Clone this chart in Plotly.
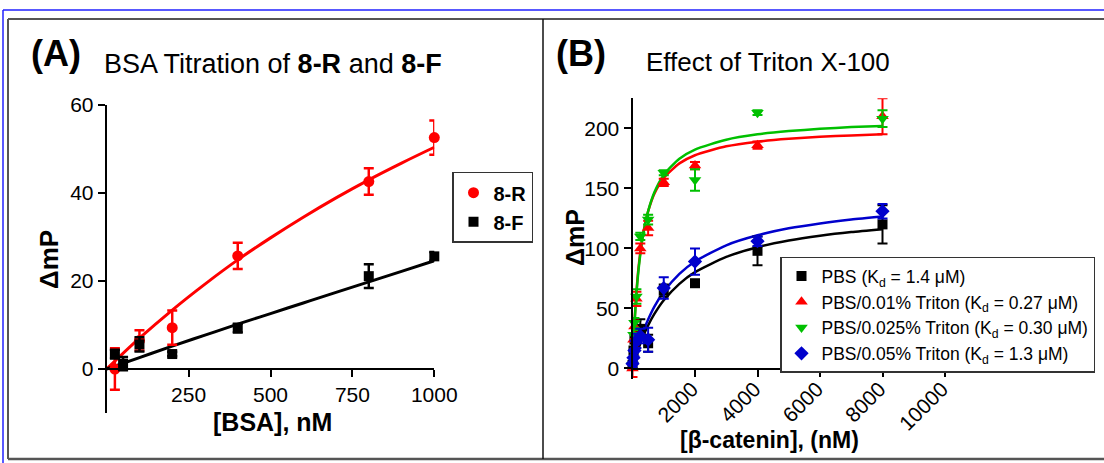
import plotly.graph_objects as go

FONT = "Liberation Sans, Arial, sans-serif"
W, H = 1104, 463

# ---------------- Panel A data ----------------
a_r_x = [25, 100, 200, 400, 800, 1000]
a_r_y = [0.0, 6.5, 9.4, 25.7, 42.6, 52.6]
a_r_e = [4.7, 2.3, 3.9, 3.0, 3.0, 3.9]
a_f_x = [25, 50, 100, 200, 400, 800, 1000]
a_f_y = [3.4, 1.2, 5.6, 3.4, 9.3, 21.1, 25.6]
a_f_e = [1.0, 1.5, 1.6, 0.5, 1.0, 2.7, 1.0]
a_fit_x = [0, 100, 200, 300, 400, 500, 600, 700, 800, 900, 1000]
a_fit_r = [0, 7.0, 13.4, 19.3, 24.8, 29.8, 34.5, 38.9, 43.0, 46.8, 50.4]
a_fit_f = [0, 2.6, 5.2, 7.7, 10.2, 12.6, 15.0, 17.4, 19.8, 22.2, 24.6]
a_xticks = [250, 500, 750, 1000]
a_yticks = [0, 20, 40, 60]

# ---------------- Panel B data ----------------
b_x = [0, 31.25, 62.5, 125, 250, 500, 1000, 2000, 4000, 8000]
b_pbs = [3, 15, 24, 32, 33, 21, 65, 71, 98, 120]
b_pbs_e = [3, 4, 5, 8, 8, 7, 5, 2, 12, 16]
b_t01 = [0, 24, 35, 58, 100, 117, 155, 169, 186, 210]
b_t01_e = [7, 5, 5, 6, 4, 6, 3, 3, 3, 15]
b_t025 = [3, 28, 38, 60, 110, 124, 163, 157, 213, 208]
b_t025_e = [3, 4, 4, 6, 3, 4, 2, 9, 2, 7]
b_t05 = [4, 9, 15, 23, 27, 24, 67, 89, 106, 131]
b_t05_e = [3, 4, 5, 6, 6, 10, 9, 11, 4, 6]
b_fit_x = [0, 50, 100, 150, 200, 300, 400, 500, 700, 1000, 1500, 2000, 3000, 4000, 5000, 6000, 7000, 8000]
b_fit_pbs = [0, 4.7, 9.1, 13.2, 17.0, 24.1, 30.3, 35.9, 45.4, 56.8, 70.5, 80.2, 92.9, 101.0, 106.5, 110.5, 113.6, 116.0]
b_fit_t01 = [0, 31.5, 54.5, 72.0, 85.8, 106.1, 120.4, 130.9, 145.5, 158.7, 170.8, 177.6, 185.0, 188.9, 191.3, 192.9, 194.1, 195.0]
b_fit_t025 = [0, 29.9, 52.4, 69.9, 83.8, 104.8, 119.8, 131.0, 146.7, 161.2, 174.7, 182.3, 190.5, 195.0, 197.7, 199.6, 201.0, 202.0]
b_fit_t05 = [0, 5.4, 10.5, 15.2, 19.6, 27.6, 34.6, 40.8, 51.5, 63.9, 78.8, 89.1, 102.6, 110.9, 116.7, 120.8, 124.0, 126.5]
b_xticks = [2000, 4000, 6000, 8000, 10000]
b_xticklabels = ["2000", "4000", "6000", "8000", "10000"]
b_yticks = [0, 50, 100, 150, 200]

RED, BLACK, GREEN, BLUE = "#ff0000", "#000000", "#00c000", "#0000cc"

fig = go.Figure()

# Panel A
fig.add_trace(go.Scatter(x=a_fit_x, y=a_fit_r, mode="lines", line=dict(color=RED, width=3, shape="spline"),
                         showlegend=False, xaxis="x", yaxis="y"))
fig.add_trace(go.Scatter(x=a_fit_x, y=a_fit_f, mode="lines", line=dict(color=BLACK, width=3, shape="spline"),
                         showlegend=False, xaxis="x", yaxis="y"))
fig.add_trace(go.Scatter(x=a_r_x, y=a_r_y, mode="markers", name="<b>8-R</b>",
                         marker=dict(color=RED, size=11, symbol="circle"),
                         error_y=dict(type="data", array=a_r_e, color=RED, thickness=2.5, width=5),
                         cliponaxis=False, xaxis="x", yaxis="y", legend="legend"))
fig.add_trace(go.Scatter(x=a_f_x, y=a_f_y, mode="markers", name="<b>8-F</b>",
                         marker=dict(color=BLACK, size=10, symbol="square"),
                         error_y=dict(type="data", array=a_f_e, color=BLACK, thickness=2.5, width=5),
                         cliponaxis=False, xaxis="x", yaxis="y", legend="legend"))

# Panel B curves
for yy, c in [(b_fit_pbs, BLACK), (b_fit_t05, BLUE), (b_fit_t01, RED), (b_fit_t025, GREEN)]:
    fig.add_trace(go.Scatter(x=b_fit_x, y=yy, mode="lines", line=dict(color=c, width=2.5, shape="spline", smoothing=0.6),
                             showlegend=False, xaxis="x2", yaxis="y2"))

b_series = [
    (b_pbs, b_pbs_e, BLACK, "square", 10, "PBS (K<sub>d</sub> = 1.4 μM)"),
    (b_t01, b_t01_e, RED, "triangle-up", 11, "PBS/0.01% Triton (K<sub>d</sub> = 0.27 μM)"),
    (b_t025, b_t025_e, GREEN, "triangle-down", 11, "PBS/0.025% Triton (K<sub>d</sub> = 0.30 μM)"),
    (b_t05, b_t05_e, BLUE, "diamond", 11, "PBS/0.05% Triton (K<sub>d</sub> = 1.3 μM)"),
]
for yy, ee, c, sym, sz, nm in b_series:
    fig.add_trace(go.Scatter(x=b_x, y=yy, mode="markers", name=nm,
                             marker=dict(color=c, size=sz, symbol=sym),
                             error_y=dict(type="data", array=ee, color=c, thickness=2, width=5),
                             cliponaxis=False, xaxis="x2", yaxis="y2", legend="legend2"))

def px_x(p):
    return p / W

def px_y(p):
    return 1 - p / H

axis_common = dict(showline=True, linecolor="black", linewidth=2, ticks="outside", ticklen=7,
                   tickwidth=2, tickcolor="black", showgrid=False, zeroline=False, automargin=False,
                   tickfont=dict(family=FONT, size=21, color="black"))

fig.update_layout(
    template="none",
    width=W, height=H, margin=dict(l=0, r=0, t=0, b=0, pad=0), autosize=False,
    paper_bgcolor="white", plot_bgcolor="rgba(0,0,0,0)",
    xaxis=dict(domain=[px_x(106.7), px_x(434.3)], range=[0, 1000], tickvals=a_xticks,
               anchor="free", position=px_y(369), **axis_common),
    yaxis=dict(domain=[px_y(413), px_y(105)], range=[-10, 60], tickvals=a_yticks,
               anchor="x", **axis_common),
    xaxis2=dict(domain=[px_x(632.5), px_x(945)], range=[0, 10000], tickvals=b_xticks,
                ticktext=b_xticklabels, tickangle=-45, ticklabelstandoff=-8, ticklabelshift=-3,
                anchor="free", position=px_y(368.5), **axis_common),
    yaxis2=dict(domain=[px_y(379.3), px_y(98.3)], range=[-9, 225], tickvals=b_yticks,
                anchor="x2", **axis_common),
    legend=dict(x=px_x(452), y=px_y(171.7), xanchor="left", yanchor="top",
                bordercolor="#333", borderwidth=1.5, bgcolor="white",
                font=dict(family=FONT, size=20, color="black")),
    legend2=dict(x=px_x(780), y=px_y(256.7), xanchor="left", yanchor="top",
                 bordercolor="#333", borderwidth=1.5, bgcolor="white",
                 font=dict(family=FONT, size=17.5, color="black")),
)

ann = [
    dict(text="<b>(A)</b>", x=px_x(55.5), y=px_y(53), font=dict(size=36)),
    dict(text="BSA Titration of <b>8-R</b> and <b>8-F</b>", x=px_x(102), y=px_y(64), xanchor="left",
         font=dict(size=27)),
    dict(text="<b>ΔmP</b>", x=px_x(49), y=px_y(260), textangle=-90, font=dict(size=26)),
    dict(text="<b>[BSA], nM</b>", x=px_x(272), y=px_y(421.7), font=dict(size=25)),
    dict(text="<b>(B)</b>", x=px_x(581), y=px_y(53), font=dict(size=36)),
    dict(text="Effect of Triton X-100", x=px_x(643.6), y=px_y(62), xanchor="left", font=dict(size=26)),
    dict(text="<b>ΔmP</b>", x=px_x(575), y=px_y(238), textangle=-90, font=dict(size=25)),
    dict(text="<b>[β-catenin], (nM)</b>", x=px_x(769), y=px_y(440), font=dict(size=23)),
]
for a in ann:
    a.setdefault("xanchor", "center")
    a["yanchor"] = "middle"
    a["xref"] = "paper"
    a["yref"] = "paper"
    a["showarrow"] = False
    a["font"] = dict(family=FONT, color="black", **a["font"])
    fig.add_annotation(**a)

shapes = [
    dict(x0=px_x(3), x1=1, y0=px_y(10), y1=px_y(10), line=dict(color="#2020ff", width=1.5)),
    dict(x0=px_x(3), x1=px_x(3), y0=0, y1=px_y(10), line=dict(color="#2020ff", width=1.5)),
    dict(x0=px_x(8), x1=1, y0=px_y(19), y1=px_y(19), line=dict(color="#555555", width=2)),
    dict(x0=px_x(8), x1=px_x(8), y0=px_y(459), y1=px_y(19), line=dict(color="#555555", width=2)),
    dict(x0=px_x(8), x1=1, y0=px_y(459), y1=px_y(459), line=dict(color="#555555", width=2.5)),
    dict(x0=px_x(543), x1=px_x(543), y0=px_y(459), y1=px_y(19), line=dict(color="#111111", width=1.5)),
]
for s in shapes:
    fig.add_shape(type="line", xref="paper", yref="paper", **s)

fig.write_html("out.html", config={"displayModeBar": False},
               post_script="document.body.style.margin='0';document.body.style.overflow='hidden';")
